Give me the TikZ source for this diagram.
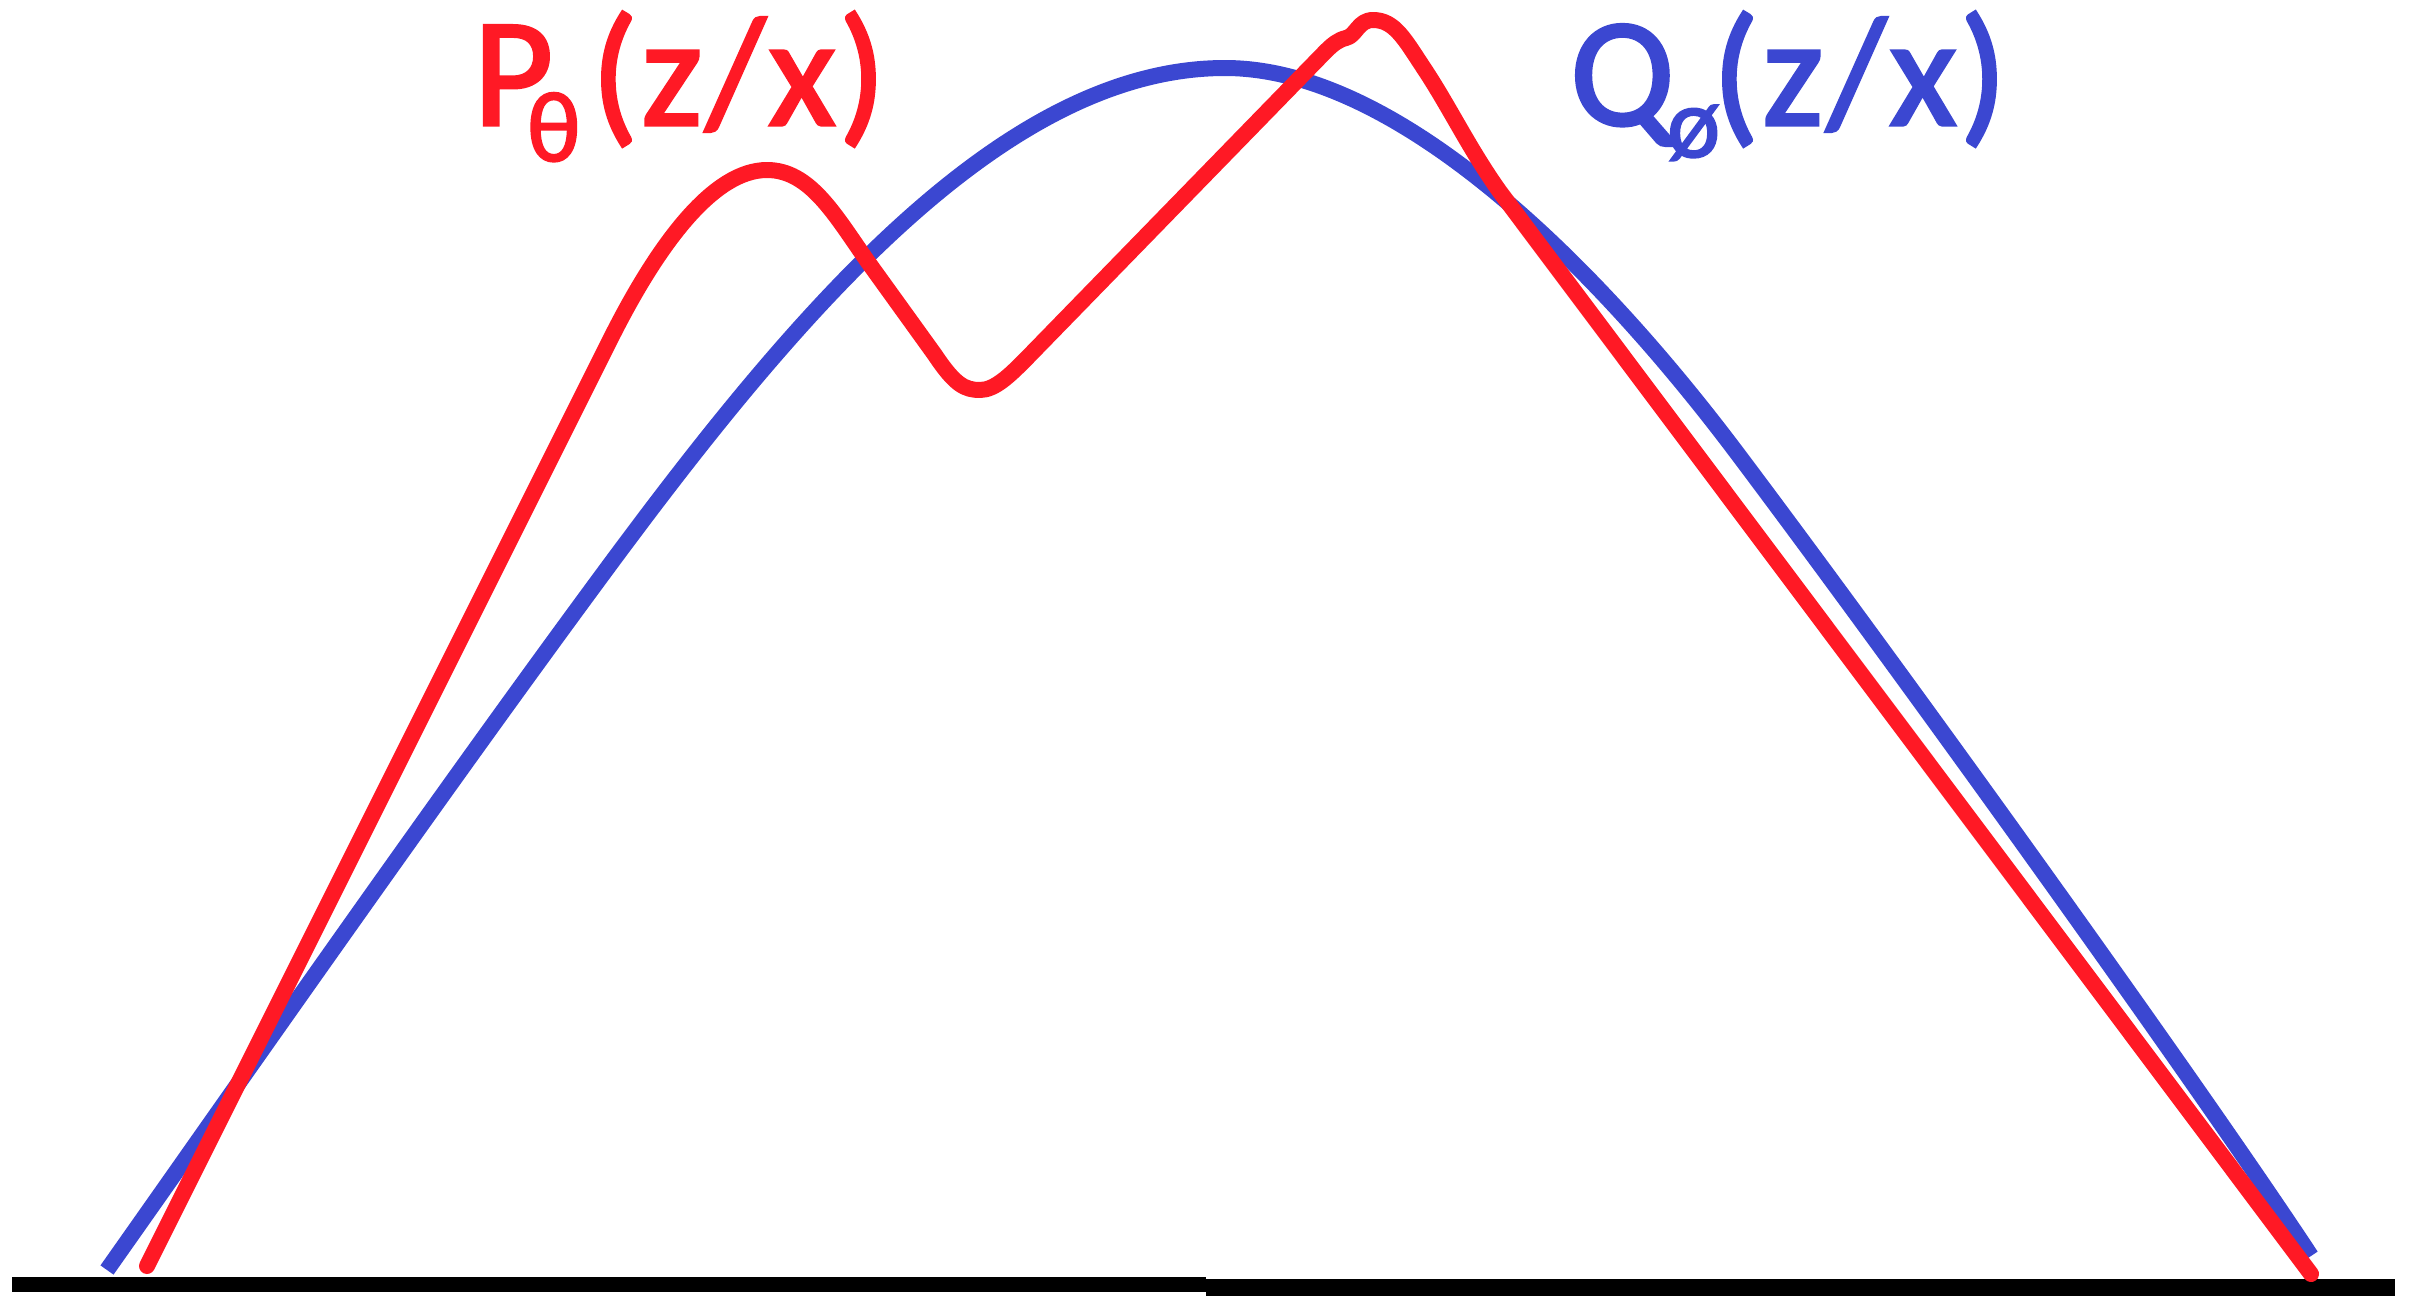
\documentclass[tikz,border=0pt]{standalone}
\usepackage{fontspec}
\setmainfont{Carlito}[FakeBold=2]
\definecolor{cred}{RGB}{255,25,37}
\definecolor{cblue}{RGB}{59,71,209}
\newcommand{\subsz}{\fontsize{100pt}{104pt}\selectfont}
\newcommand{\spaced}{\addfontfeature{LetterSpace=2}}
\tikzset{
  redcurve/.style={draw=cred, line width=16pt, line cap=round, line join=round},
  bluecurve/.style={draw=cblue, line width=16pt, line cap=butt, line join=round},
  axisline/.style={draw=black, line cap=butt},
  bigtxt/.style={inner sep=0pt, anchor=base west, font=\fontsize{155pt}{160pt}\selectfont},
}
\begin{document}
\begin{tikzpicture}[x=1pt,y=-1pt]
\useasboundingbox (0,0) rectangle (2415,1307);
% baseline
\draw[axisline, line width=15pt] (12,1284.5) -- (1206,1284.5);
\draw[axisline, line width=17pt] (1206,1287.5) -- (2395,1287.5);
% blue curve Q
\draw[bluecurve] (107,1270) .. controls (260,1053) and (440,795) .. (600,578)
  .. controls (790,320) and (1000,68) .. (1225,68)
  .. controls (1400,68) and (1600,270) .. (1740,457)
  .. controls (1900,670) and (2195,1080) .. (2311,1256);
% red curve P
\draw[redcurve] (147,1266) -- (610,340)
  .. controls (660,240) and (715,170) .. (767,170)
  .. controls (810,170) and (835,215) .. (868,262)
  -- (935,355)
  .. controls (955,385) and (965,390) .. (980,390)
  .. controls (995,390) and (1010,375) .. (1025,360)
  -- (1325,52)
  .. controls (1333,44) and (1338,40) .. (1346,38)
  .. controls (1356,36) and (1358,20) .. (1373,20)
  .. controls (1395,20) and (1405,40) .. (1425,70)
  .. controls (1450,108) and (1470,150) .. (1500,192)
  -- (2311,1274);
% labels
\node[bigtxt, text=cred] (plabel) at (473,125)
  {\rlap{P}\hspace{54pt}\rlap{\raisebox{-36pt}{\subsz θ}}\hspace{64pt}{\spaced(z/x)}};
\node[bigtxt, text=cblue] (qlabel) at (1570,125)
  {\rlap{Q}\hspace{97pt}\rlap{\raisebox{-32pt}{\subsz ø}}\hspace{45pt}{\spaced(z/x)}};
\end{tikzpicture}
\end{document}
